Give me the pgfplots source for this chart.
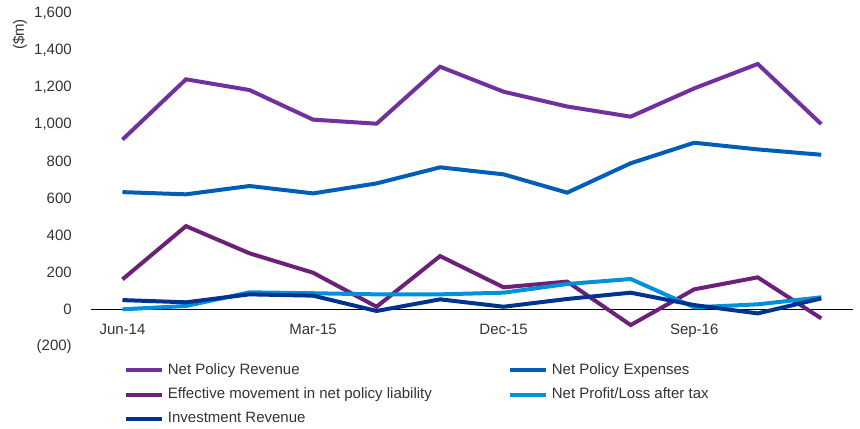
\documentclass[border=0pt]{standalone}
\usepackage{fontspec}
\setmainfont{Liberation Sans}
\usepackage{pgfplots}
\pgfplotsset{compat=1.18}
\definecolor{cNPR}{HTML}{7030A0}
\definecolor{cNPE}{HTML}{005EB8}
\definecolor{cEFF}{HTML}{6D2077}
\definecolor{cNP}{HTML}{0091DA}
\definecolor{cIR}{HTML}{00338D}
\definecolor{txt}{HTML}{333333}
\begin{document}
\begin{tikzpicture}[font=\fontsize{7.5}{9}\selectfont, text=txt]
\useasboundingbox (0,0) rectangle (430pt,214pt);
\begin{axis}[
  scale only axis,
  anchor=south west,
  at={(45.35pt,40.85pt)},
  width=381.15pt, height=166.4pt,
  xmin=-0.5, xmax=11.5,
  ymin=-200, ymax=1600,
  axis line style={draw=none},
  major tick length=0pt,
  /pgf/number format/assume math mode=true,
  xtick={0,3,6,9},
  xticklabels={Jun-14,Mar-15,Dec-15,Sep-16},
  ytick={-200,0,200,400,600,800,1000,1200,1400,1600},
  yticklabels={(200),0,200,400,600,800,{1,000},{1,200},{1,400},{1,600}},
  every tick label/.append style={inner sep=0pt, text=txt},
  yticklabel style={anchor=east, xshift=-9.3pt},
  xticklabel style={anchor=base, yshift=6.1pt},
  legend columns=2,
  legend cell align=left,
  legend style={draw=none, fill=none, inner sep=0pt, outer sep=0pt,
    at={(0,0)}, anchor=north west, xshift=16.6pt, yshift=-6.6pt,
    row sep=1.3pt,
    font=\fontsize{7.5}{9}\selectfont, text=txt},
  legend image code/.code={\draw[#1] (0pt,0pt) -- (18pt,0pt);},
  every axis plot/.append style={line width=2pt, line join=miter, no markers},
]
\draw[black, line width=0.6pt] (axis cs:-0.5,0) -- (axis cs:11.5,0);
\addplot[cNPR] coordinates {(0,918) (1,1244) (2,1186) (3,1026) (4,1004) (5,1312) (6,1177) (7,1097) (8,1042) (9,1195) (10,1327) (11,1002)};
\addlegendentry{\makebox[168pt][l]{Net Policy Revenue}}
\addplot[cNPE] coordinates {(0,634) (1,622) (2,667) (3,627) (4,681) (5,768) (6,730) (7,631) (8,790) (9,901) (10,865) (11,836)};
\addlegendentry{Net Policy Expenses}
\addplot[cEFF] coordinates {(0,162) (1,450) (2,303) (3,198) (4,14) (5,288) (6,119) (7,150) (8,-85) (9,108) (10,173) (11,-49)};
\addlegendentry{\makebox[168pt][l]{Effective movement in net policy liability}}
\addplot[cNP] coordinates {(0,0) (1,18) (2,92) (3,87) (4,81) (5,81) (6,90) (7,137) (8,164) (9,11) (10,27) (11,65)};
\addlegendentry{Net Profit/Loss after tax}
\addplot[cIR] coordinates {(0,50) (1,38) (2,81) (3,74) (4,-9) (5,54) (6,14) (7,56) (8,90) (9,23) (10,-22) (11,59)};
\addlegendentry{\makebox[168pt][l]{Investment Revenue}}
\end{axis}
\node[rotate=90, anchor=east, text=txt] at (10pt,208pt) {(\$m)};
\end{tikzpicture}
\end{document}
